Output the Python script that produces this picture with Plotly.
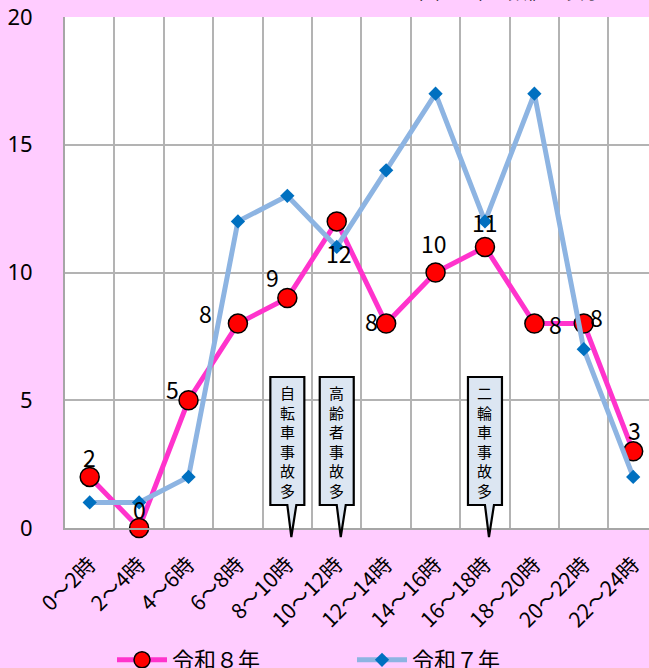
import plotly.graph_objects as go

# ---- data ----
categories = ["0～2時", "2～4時", "4～6時", "6～8時", "8～10時", "10～12時",
              "12～14時", "14～16時", "16～18時", "18～20時", "20～22時", "22～24時"]
r8_values = [2, 0, 5, 8, 9, 12, 8, 10, 11, 8, 8, 3]
r7_values = [1, 1, 2, 12, 13, 11, 14, 17, 12, 17, 7, 2]
series_names = ["令和８年", "令和７年"]
y_ticks = [0, 5, 10, 15, 20]
callout_texts = ["自転車事故多", "高齢者事故多", "二輪車事故多"]
callout_cats = [4, 5, 8]
title_text = "（令和８年の数値を表示）"

# ---- layout geometry / styling ----
W, H = 649, 668
ML, MR, MT, MB = 65, 0, 17, 140
PW, PH = W - ML - MR, H - MT - MB
XMIN, XMAX = -0.5, 11.32

# pixel offsets of the value labels (dx right, dy up)
label_dx = [0, 0, -16, -32, -15, 2, -15, -2, 0, 21, 13, 1]
label_dy = [20, 19, 11, 11, 21, -32, 3, 30, 25, 0, 7, 21]

fig = go.Figure()
fig.add_trace(go.Scatter(
    x=categories, y=r8_values, name=series_names[0], mode="lines+markers",
    line=dict(color="#FF33CC", width=5),
    marker=dict(symbol="circle", size=19, color="#FF0000", line=dict(color="black", width=1.5)),
    cliponaxis=False,
))
fig.add_trace(go.Scatter(
    x=categories, y=r7_values, name=series_names[1], mode="lines+markers",
    line=dict(color="#8DB4E2", width=5),
    marker=dict(symbol="diamond", size=11, color="#0070C0"),
    cliponaxis=False,
))


def xp(cat_idx, dpx=0):
    return (cat_idx - XMIN) / (XMAX - XMIN) + dpx / PW


def yp(py):
    return (H - MB - py) / PH


shapes = []
annotations = []

# value labels for 令和８年
for c, v, dx, dy in zip(categories, r8_values, label_dx, label_dy):
    annotations.append(dict(text=str(v), x=c, y=v, xref="x", yref="y", showarrow=False,
                            xshift=dx, yshift=dy, xanchor="center", yanchor="middle",
                            font=dict(size=23, color="black", family="Noto Sans CJK JP")))

# callouts
for txt, ci in zip(callout_texts, callout_cats):
    top, bot, tip = 377, 505, 537
    L, R = xp(ci, -17), xp(ci, 17)
    b1, b2, tp = xp(ci, 0), xp(ci, 9), xp(ci, 4)
    path = (f"M {L},{yp(top)} L {R},{yp(top)} L {R},{yp(bot)} L {b2},{yp(bot)} "
            f"L {tp},{yp(tip)} L {b1},{yp(bot)} L {L},{yp(bot)} Z")
    shapes.append(dict(type="path", path=path, xref="paper", yref="paper",
                       fillcolor="#DCE6F2", line=dict(color="black", width=2.2), layer="above"))
    annotations.append(dict(text="<br>".join(list(txt)), xref="paper", yref="paper",
                            x=xp(ci), y=yp((top + bot) / 2), xanchor="center", yanchor="middle",
                            showarrow=False, font=dict(size=15, color="black", family="Noto Sans CJK JP")))

annotations.append(dict(text=title_text, xref="paper", yref="paper",
                        x=(392 - ML) / PW, y=yp(6), xanchor="left", yanchor="bottom",
                        showarrow=False, font=dict(size=19, color="black", family="Noto Sans CJK JP")))

fig.update_layout(
    width=W, height=H,
    margin=dict(l=ML, r=MR, t=MT, b=MB, autoexpand=False),
    paper_bgcolor="#FFCCFF", plot_bgcolor="white",
    showlegend=True,
    legend=dict(orientation="h", x=(112 - ML) / PW, y=yp(639), xanchor="left", yanchor="top",
                font=dict(size=22, color="black", family="Noto Sans CJK JP"),
                entrywidth=175, entrywidthmode="pixels", itemwidth=50, bgcolor="rgba(0,0,0,0)"),
    shapes=shapes, annotations=annotations,
    xaxis=dict(type="category", categoryorder="array", categoryarray=categories,
               range=[XMIN, XMAX], tickson="boundaries", showgrid=True,
               gridcolor="#B3B3B3", gridwidth=1.5, showline=True, linecolor="#A6A6A6", linewidth=2,
               ticks="", tickangle=-45, ticklabelstandoff=14,
               tickfont=dict(size=21, color="black", family="Noto Sans CJK JP")),
    yaxis=dict(range=[0, 20], tickvals=y_ticks, showgrid=True, gridcolor="#B3B3B3", gridwidth=1.5,
               zeroline=False, showline=True, linecolor="#A6A6A6", linewidth=2, ticks="",
               ticklabelstandoff=26, tickfont=dict(size=22, color="black", family="Noto Sans")),
)

fig.write_html("out.html", config={"displayModeBar": False},
               post_script="document.body.style.margin='0';document.body.style.background='#FFCCFF';")
